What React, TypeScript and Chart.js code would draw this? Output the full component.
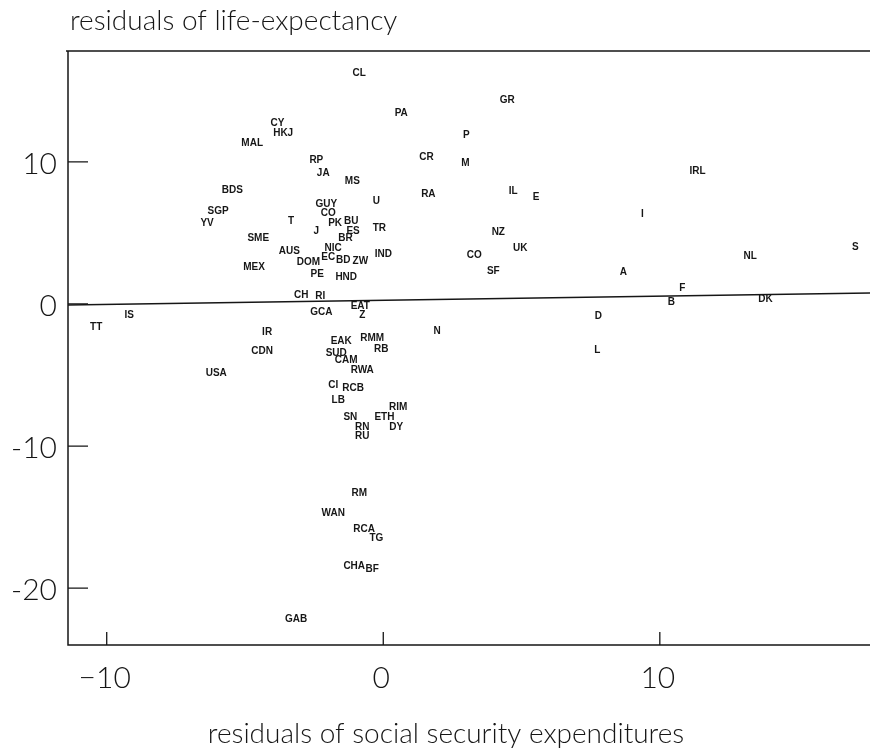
import { useEffect, useRef } from "react";
import { Chart, registerables } from "chart.js";

Chart.register(...registerables);

const countryCodes = [
  "CL", "PA", "GR", "CY", "HKJ", "MAL", "P", "CR", "M", "RP", "JA", "MS", "IRL", "BDS", "RA", "IL", "E", "U",
  "GUY", "CO", "SGP", "YV", "I", "T", "PK", "BU", "ES", "TR", "J", "NZ", "BR", "SME", "S", "UK", "AUS", "NIC",
  "IND", "CO", "NL", "EC", "BD", "ZW", "DOM", "MEX", "SF", "A", "PE", "HND", "F", "CH", "RI", "B", "DK", "EAT",
  "GCA", "Z", "IS", "D", "TT", "N", "IR", "RMM", "EAK", "RB", "L", "CDN", "SUD", "CAM", "RWA", "USA", "CI", "RCB",
  "LB", "RIM", "ETH", "SN", "RN", "DY", "RU", "RM", "WAN", "RCA", "TG", "CHA", "BF", "GAB",
];

const socialSecurityResiduals = [
  -0.87, 0.65, 4.48, -3.83, -3.62, -4.74, 3.0, 1.56, 2.97, -2.42, -2.17, -1.12, 11.36, -5.46, 1.63, 4.7, 5.53, -0.25,
  -2.06, -1.99, -5.97, -6.37, 9.37, -3.33, -1.74, -1.16, -1.09, -0.14, -2.42, 4.16, -1.37, -4.52, 17.07, 4.95, -3.4, -1.81,
  0.0, 3.29, 13.27, -1.99, -1.45, -0.83, -2.71, -4.67, 3.98, 8.68, -2.39, -1.34, 10.81, -2.97, -2.28, 10.42, 13.82, -0.83,
  -2.24, -0.76, -9.19, 7.78, -10.38, 1.95, -4.2, -0.4, -1.52, -0.07, 7.74, -4.38, -1.7, -1.34, -0.76, -6.04, -1.81, -1.09,
  -1.63, 0.54, 0.04, -1.19, -0.76, 0.47, -0.76, -0.87, -1.81, -0.69, -0.25, -1.05, -0.4, -3.15,
];

const lifeExpectancyResiduals = [
  16.2, 13.4, 14.3, 12.75, 12.0, 11.3, 11.9, 10.35, 9.9, 10.1, 9.2, 8.6, 9.37, 8.0, 7.7, 7.96, 7.5, 7.25,
  7.0, 6.4, 6.5, 5.7, 6.3, 5.85, 5.7, 5.8, 5.1, 5.35, 5.1, 5.07, 4.6, 4.6, 4.0, 3.94, 3.7, 3.9,
  3.5, 3.45, 3.37, 3.3, 3.1, 3.0, 2.95, 2.6, 2.32, 2.25, 2.1, 1.9, 1.13, 0.63, 0.56, 0.14, 0.35, -0.14,
  -0.6, -0.77, -0.77, -0.85, -1.62, -1.9, -2.0, -2.4, -2.6, -3.17, -3.24, -3.3, -3.45, -3.94, -4.65, -4.9, -5.7, -5.9,
  -6.8, -7.3, -7.96, -8.0, -8.66, -8.66, -9.3, -13.3, -14.7, -15.85, -16.5, -18.45, -18.66, -22.2,
];

const fitLineX = [-11.4, 17.6];
const fitLineY = [-0.07, 0.77];

const xTickValues = [-10, 0, 10];
const xTickLabels = ["\u221210", "0", "10"];
const yTickValues = [10, 0, -10, -20];
const yTickLabels = ["10", "0", "-10", "-20"];

const yAxisTitle = "residuals of life-expectancy";
const xAxisTitle = "residuals of social security expenditures";

const INK = "#161616";
const THIN_FONT = "Lato, 'Liberation Sans', sans-serif";

const decorPlugin = {
  id: "decor",
  afterDatasetsDraw(chart: any) {
    const ctx = chart.ctx;
    const meta = chart.getDatasetMeta(0);
    ctx.save();
    ctx.fillStyle = INK;
    ctx.font = "bold 10px 'Liberation Sans', Arial, sans-serif";
    ctx.textAlign = "center";
    ctx.textBaseline = "middle";
    meta.data.forEach((el: any, i: number) => {
      ctx.fillText(countryCodes[i], el.x, el.y);
    });
    ctx.restore();
  },
  afterDraw(chart: any) {
    const ctx = chart.ctx;
    const { left, top, right, bottom } = chart.chartArea;
    const xs = chart.scales.x;
    const ys = chart.scales.y;
    ctx.save();
    ctx.strokeStyle = INK;
    ctx.lineWidth = 1.5;
    ctx.beginPath();
    ctx.moveTo(left - 2, top);
    ctx.lineTo(right, top);
    ctx.moveTo(left, top);
    ctx.lineTo(left, bottom);
    ctx.lineTo(right, bottom);
    ctx.stroke();

    ctx.lineWidth = 1.3;
    ctx.beginPath();
    yTickValues.forEach((v) => {
      const y = ys.getPixelForValue(v);
      ctx.moveTo(left, y);
      ctx.lineTo(left + 20, y);
    });
    xTickValues.forEach((v) => {
      const x = xs.getPixelForValue(v);
      ctx.moveTo(x, bottom);
      ctx.lineTo(x, bottom - 13);
    });
    ctx.stroke();

    ctx.fillStyle = INK;
    ctx.font = `300 30px ${THIN_FONT}`;
    ctx.textAlign = "right";
    ctx.textBaseline = "middle";
    yTickValues.forEach((v, i) => {
      ctx.fillText(yTickLabels[i], left - 11, ys.getPixelForValue(v) + 2);
    });
    ctx.textAlign = "center";
    xTickValues.forEach((v, i) => {
      ctx.fillText(xTickLabels[i], xs.getPixelForValue(v) - 2, bottom + 33);
    });

    ctx.font = `300 28px ${THIN_FONT}`;
    ctx.textAlign = "left";
    ctx.textBaseline = "alphabetic";
    ctx.fillText(yAxisTitle, left + 2, 30);
    ctx.textAlign = "center";
    ctx.fillText(xAxisTitle, 446, 743);
    ctx.restore();
  },
};

export default function App() {
  const canvasRef = useRef<HTMLCanvasElement | null>(null);

  useEffect(() => {
    if (!canvasRef.current) return;
    const points = countryCodes.map((_, i) => ({
      x: socialSecurityResiduals[i],
      y: lifeExpectancyResiduals[i],
    }));
    const line = fitLineX.map((x, i) => ({ x, y: fitLineY[i] }));
    const chart = new Chart(canvasRef.current, {
      type: "scatter",
      data: {
        datasets: [
          { data: points, pointRadius: 0, pointHoverRadius: 0 },
          {
            data: line,
            showLine: true,
            pointRadius: 0,
            borderColor: INK,
            borderWidth: 1.5,
          },
        ],
      },
      options: {
        animation: false,
        responsive: false,
        events: [],
        layout: { padding: { left: 68, top: 51, right: 0, bottom: 107 } },
        plugins: { legend: { display: false }, tooltip: { enabled: false } },
        scales: {
          x: { type: "linear", min: -11.4, max: 17.6, display: false },
          y: { type: "linear", min: -24, max: 17.8, display: false },
        },
      },
      plugins: [decorPlugin],
    });
    return () => chart.destroy();
  }, []);

  return (
    <div style={{ position: "absolute", left: 0, top: 0, width: 870, height: 752, background: "#fff" }}>
      <canvas ref={canvasRef} width={870} height={752} />
    </div>
  );
}
